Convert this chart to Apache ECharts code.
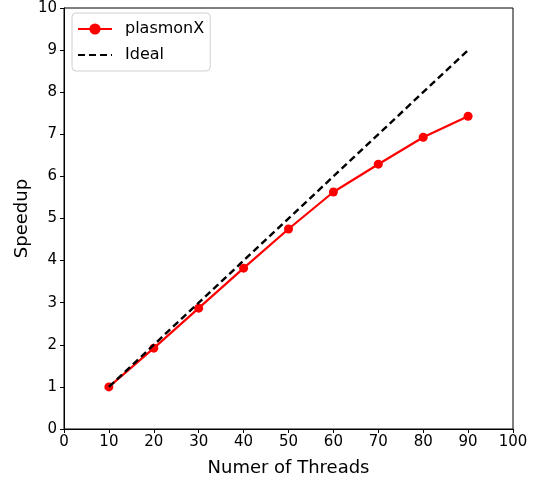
<!DOCTYPE html>
<html>
<head>
<meta charset="utf-8">
<script src="https://cdn.jsdelivr.net/npm/echarts@6/dist/echarts.min.js"></script>
<style>html,body{margin:0;padding:0;background:#fff;}#c{width:543px;height:481px;}</style>
</head>
<body>
<div id="c"></div>
<script>
const threads = [10, 20, 30, 40, 50, 60, 70, 80, 90];
const plasmonX = [1.0, 1.92, 2.87, 3.82, 4.75, 5.63, 6.29, 6.93, 7.43];
const idealThreads = [10, 90];
const ideal = [1, 9];

const font = 'DejaVu Sans';
const chart = echarts.init(document.getElementById('c'));
chart.setOption({
  animation: false,
  backgroundColor: '#fff',
  textStyle: { fontFamily: font },
  grid: { left: 64, right: 30, top: 8, bottom: 52, show: true, borderColor: '#000', borderWidth: 1,
          containLabel: false, outerBoundsMode: 'none' },
  legend: {
    left: 72, top: 13, orient: 'vertical',
    backgroundColor: '#fff', borderColor: '#d0d0d0', borderWidth: 1, borderRadius: 4,
    padding: [8, 6, 8, 5], itemGap: 10, itemWidth: 34, itemHeight: 14,
    textStyle: { fontFamily: font, fontSize: 16, color: '#000', padding: [0, 0, 0, 8] },
    data: [
      { name: 'plasmonX' },
      { name: 'Ideal', itemStyle: { color: 'transparent', borderWidth: 0, opacity: 0 } }
    ]
  },
  xAxis: {
    type: 'value', min: 0, max: 100, interval: 10,
    name: 'Numer of Threads', nameLocation: 'middle', nameGap: 30,
    nameTextStyle: { fontFamily: font, fontSize: 18, color: '#000' },
    axisLine: { show: true, onZero: false, lineStyle: { color: '#000' } },
    axisTick: { show: true, length: 4, lineStyle: { color: '#000' } },
    axisLabel: { fontFamily: font, fontSize: 15, color: '#000', margin: 6 },
    splitLine: { show: false }
  },
  yAxis: {
    type: 'value', min: 0, max: 10, interval: 1,
    name: 'Speedup', nameLocation: 'middle', nameGap: 33, nameMoveOverlap: false,
    nameTextStyle: { fontFamily: font, fontSize: 18, color: '#000' },
    axisLine: { show: true, lineStyle: { color: '#000' } },
    axisTick: { show: true, length: 4, lineStyle: { color: '#000' } },
    axisLabel: { fontFamily: font, fontSize: 15, color: '#000', margin: 7 },
    splitLine: { show: false }
  },
  series: [
    {
      name: 'plasmonX', type: 'line',
      data: threads.map((t, i) => [t, plasmonX[i]]),
      symbol: 'circle', symbolSize: 9,
      lineStyle: { color: '#ff0000', width: 2.2 },
      itemStyle: { color: '#ff0000' },
      z: 3
    },
    {
      name: 'Ideal', type: 'line',
      data: idealThreads.map((t, i) => [t, ideal[i]]),
      symbol: 'none', showSymbol: false,
      lineStyle: { color: '#000', width: 2.4, type: [7, 4] },
      itemStyle: { color: '#000' },
      z: 4
    }
  ]
});
</script>
</body>
</html>
